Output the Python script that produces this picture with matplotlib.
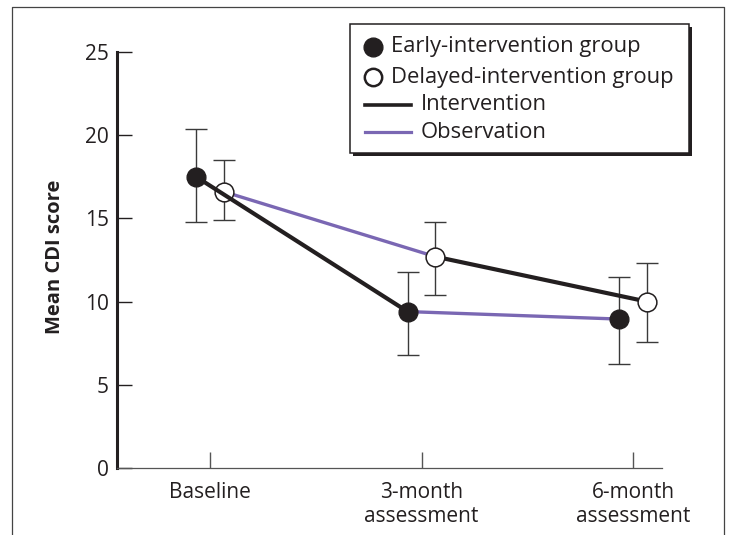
import matplotlib
matplotlib.use("Agg")
import matplotlib.pyplot as plt
from matplotlib.lines import Line2D
from matplotlib.patches import Rectangle

plt.rcParams['font.family'] = ['Open Sans', 'DejaVu Sans']

categories = ['Baseline', '3-month\nassessment', '6-month\nassessment']
early_mean = [17.5, 9.4, 8.95]
early_upper = [20.4, 11.8, 11.5]
early_lower = [14.8, 6.8, 6.25]
delayed_mean = [16.6, 12.7, 10.0]
delayed_upper = [18.5, 14.8, 12.3]
delayed_lower = [14.9, 10.4, 7.6]
yticks = [0, 5, 10, 15, 20, 25]
legend_labels = ['Early-intervention group', 'Delayed-intervention group',
                 'Intervention', 'Observation']

INK = '#231f20'
PURPLE = '#7a67b3'
FS = 15
LFS = 15.8
W, H = 730, 535
fig = plt.figure(figsize=(W / 100, H / 100), dpi=100)
ax = fig.add_axes([117 / W, 1 - 468 / H, (662 - 117) / W, (468 - 52) / H])

off = 0.066
xs = list(range(len(categories)))
xe = [x - off for x in xs]
xd = [x + off for x in xs]

# error bars
for xx, m, lo, hi in ((xe, early_mean, early_lower, early_upper),
                      (xd, delayed_mean, delayed_lower, delayed_upper)):
    yerr = [[mm - l for mm, l in zip(m, lo)], [h - mm for mm, h in zip(m, hi)]]
    ax.errorbar(xx, m, yerr=yerr, fmt='none', ecolor='#3a3a3a', elinewidth=1.0,
                capsize=8, capthick=1.0, zorder=1)

# delayed group segments
ax.plot(xd[0:2], delayed_mean[0:2], color=PURPLE, lw=2.4, zorder=2, solid_capstyle='butt')
ax.plot(xd[1:3], delayed_mean[1:3], color=INK, lw=3.0, zorder=2, solid_capstyle='butt')
ax.plot(xd, delayed_mean, 'o', ms=13.5, mfc='white', mec=INK, mew=1.1, zorder=3, ls='none')
# early group segments
ax.plot(xe[0:2], early_mean[0:2], color=INK, lw=3.0, zorder=4, solid_capstyle='butt')
ax.plot(xe[1:3], early_mean[1:3], color=PURPLE, lw=2.4, zorder=4, solid_capstyle='butt')
ax.plot(xe, early_mean, 'o', ms=13.5, mfc=INK, mec=INK, mew=1.0, zorder=5, ls='none')

ax.set_xlim(-0.44, 2.137)
ax.set_ylim(0, 25)
ax.set_xticks(xs)
ax.set_xticklabels(categories, fontsize=FS, color=INK, linespacing=1.2)
ax.set_yticks(yticks)
ax.set_yticklabels([str(t) for t in yticks], fontsize=FS, color=INK)
ax.tick_params(axis='y', direction='in', length=11, width=1.0, color=INK, pad=6)
ax.tick_params(axis='x', direction='in', length=11.5, width=1.0, color='#555555', pad=10)
for s in ('top', 'right'):
    ax.spines[s].set_visible(False)
ax.spines['left'].set_linewidth(2.2)
ax.spines['left'].set_color(INK)
ax.spines['bottom'].set_linewidth(0.9)
ax.spines['bottom'].set_color('#555555')


def fx(px):
    return px / W


def fy(py):
    return 1 - py / H


fig.text(fx(55), fy(257), 'Mean CDI score', rotation=90, ha='center', va='center',
         fontsize=14.5, fontweight='bold', color=INK)

# figure frame (open at bottom)
fig.add_artist(Line2D([fx(12), fx(12), fx(724), fx(724)], [0, fy(7), fy(7), 0],
                      transform=fig.transFigure, color='#444444', lw=0.9))

# manual legend box with shadow
x0, y0, x1, y1 = 350, 24, 689, 153
fig.add_artist(Rectangle((fx(x0 + 3), fy(y1 + 3)), fx(x1) - fx(x0), fy(y0) - fy(y1),
                         transform=fig.transFigure, facecolor=INK, edgecolor='none', zorder=8))
fig.add_artist(Rectangle((fx(x0), fy(y1)), fx(x1) - fx(x0), fy(y0) - fy(y1),
                         transform=fig.transFigure, facecolor='white', edgecolor=INK,
                         lw=1.1, zorder=9))
rows = [47, 77, 105, 132]
fig.add_artist(Line2D([fx(373)], [fy(rows[0])], marker='o', ms=13.5, mfc=INK, mec=INK,
                      transform=fig.transFigure, zorder=10))
fig.add_artist(Line2D([fx(373)], [fy(rows[1])], marker='o', ms=12.5, mfc='white', mec=INK,
                      mew=1.8, transform=fig.transFigure, zorder=10))
fig.add_artist(Line2D([fx(365), fx(411)], [fy(rows[2])] * 2, color=INK, lw=2.6,
                      transform=fig.transFigure, zorder=10))
fig.add_artist(Line2D([fx(365), fx(411)], [fy(rows[3])] * 2, color=PURPLE, lw=2.3,
                      transform=fig.transFigure, zorder=10))
text_x = [391, 391, 421, 421]
for lab, tx, ry in zip(legend_labels, text_x, rows):
    fig.text(fx(tx), fy(ry), lab, ha='left', va='center', fontsize=LFS, color=INK, zorder=11)

fig.savefig('out.png', dpi=100)
